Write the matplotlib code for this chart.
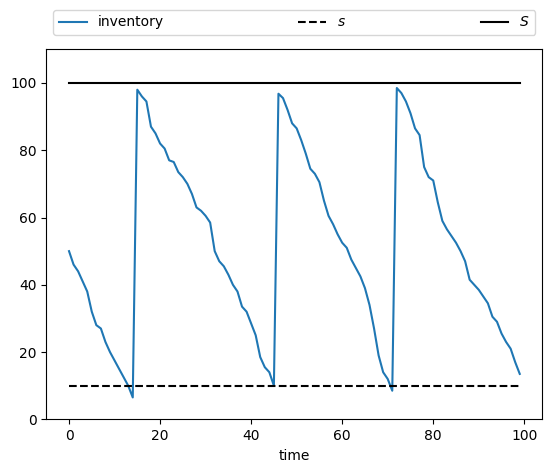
import matplotlib
matplotlib.use("Agg")
import matplotlib.pyplot as plt
import numpy as np

s_level = 10
S_level = 100

inventory = [
    50, 46, 44, 41, 38, 32, 28, 27, 23, 20, 17.5, 15, 12.5, 10, 6.5,
    98, 96, 94.5, 87, 85, 82, 80.5, 77, 76.5, 73.5, 72, 70, 67, 63, 62,
    60.5, 58.5, 50, 47, 45.5, 43, 40, 38, 33.5, 32, 28.5, 25, 18.5, 15.5, 14, 10,
    96.8, 95.5, 92, 88, 86.5, 83, 79, 74.5, 73, 70.5, 65, 60.5, 58, 55, 52.5,
    51, 47.5, 45, 42.5, 39, 34, 27, 19, 14, 12, 8.5,
    98.5, 97, 94.5, 91, 86.5, 84.5, 75, 72, 71, 64.5, 59, 56.5, 54.5, 52.5, 50,
    47, 41.5, 40, 38.5, 36.5, 34.5, 30.5, 29, 25.5, 23, 21, 17, 13.5,
]
time = np.arange(len(inventory))

fig, ax = plt.subplots(figsize=(5.52, 4.72), dpi=100)
fig.subplots_adjust(left=0.0842, right=0.9824, top=0.8955, bottom=0.1116)

ax.plot(time, inventory, label="inventory")
ax.plot(time, [s_level] * len(time), "k--", label="$s$")
ax.plot(time, [S_level] * len(time), "k-", label="$S$")
ax.set_ylim(0, 110)
ax.set_xlabel("time")
ax.legend(bbox_to_anchor=(0., 1.02, 1., .102), loc=3, ncol=3,
          mode="expand")

fig.savefig("out.png", dpi=100)
